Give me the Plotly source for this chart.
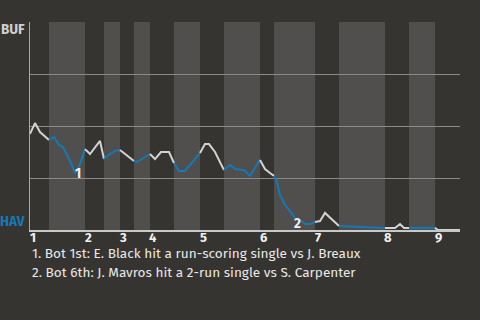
import plotly.graph_objects as go

# Game progress (plays) and BUF win probability (1 = BUF, 0 = HAV)
play_pos = [0, 5, 10, 14, 19, 24, 29, 33, 37, 41, 45, 49, 55, 60, 70, 74, 80, 85, 90, 96,
            104, 107, 115, 120, 125, 131, 139, 144, 149, 155, 165, 170, 175, 179, 185, 194,
            200, 205, 214, 220, 230, 235, 240, 244, 247, 250, 255, 260, 265, 270, 275, 280,
            285, 290, 295, 300, 309, 330, 345, 355, 365, 370, 374, 379, 405, 408, 430]
buf_prob = [0.462, 0.514, 0.471, 0.452, 0.433, 0.447, 0.409, 0.399, 0.361, 0.322, 0.274, 0.303,
            0.389, 0.365, 0.428, 0.341, 0.365, 0.380, 0.385, 0.361,
            0.332, 0.327, 0.351, 0.365, 0.341, 0.375, 0.375, 0.322, 0.284, 0.284, 0.341, 0.370,
            0.413, 0.413, 0.375, 0.288,
            0.313, 0.293, 0.288, 0.260, 0.337, 0.293, 0.274, 0.260, 0.231, 0.168, 0.120, 0.091,
            0.058, 0.048, 0.029, 0.029,
            0.038, 0.043, 0.082, 0.058, 0.019, 0.014, 0.010, 0.010, 0.010, 0.029, 0.010, 0.010,
            0.010, 0.0, 0.0]

# Half-inning boundaries (top 1st, bot 1st, top 2nd, ...)
half_bounds = [0, 19, 55, 74, 90, 104, 120, 144, 170, 194, 230, 244, 285, 309, 355, 379, 405, 430]
inning_labels = ["1", "2", "3", "4", "5", "6", "7", "8", "9"]

notes = ["1. Bot 1st: E. Black hit a run-scoring single vs J. Breaux",
         "2. Bot 6th: J. Mavros hit a 2-run single vs S. Carpenter"]
note_marks = ["1", "2"]
note_x = [48, 267]
note_y = [0.274, 0.029]

BG = "#363431"
BAND = "#504f4d"
BLUE = "#1479b4"
WHITE = "#d2d2d2"
FONT = "Fira Sans, Open Sans, sans-serif"

fig = go.Figure()

shapes = []
for i in range(len(half_bounds) - 1):
    if i % 2 == 1:
        shapes.append(dict(type="rect", xref="x", yref="paper",
                           x0=half_bounds[i], x1=half_bounds[i + 1], y0=0, y1=1,
                           fillcolor=BAND, line=dict(width=0), layer="below"))

for i in range(len(half_bounds) - 1):
    a, b = half_bounds[i], half_bounds[i + 1]
    xs = [x for x in play_pos if a <= x <= b]
    ys = [p for x, p in zip(play_pos, buf_prob) if a <= x <= b]
    fig.add_trace(go.Scatter(x=xs, y=ys, mode="lines",
                             line=dict(color=BLUE if i % 2 == 1 else WHITE, width=2),
                             hoverinfo="skip", showlegend=False))

annotations = []
for m, x, y in zip(note_marks, note_x, note_y):
    annotations.append(dict(x=x, y=y, xref="x", yref="y", text="<b>%s</b>" % m,
                            showarrow=False, font=dict(family=FONT, size=13.5, color="#f0f0f0")))

annotations.append(dict(x=0, y=1, xref="paper", yref="paper", text="<b>BUF</b>",
                        xanchor="right", yanchor="middle", xshift=-3, yshift=-7,
                        showarrow=False, font=dict(family=FONT, size=13.5, color="#cfcfcf")))
annotations.append(dict(x=0, y=0, xref="paper", yref="paper", text="<b>HAV</b>",
                        xanchor="right", yanchor="middle", xshift=-3, yshift=9,
                        showarrow=False, font=dict(family=FONT, size=13.5, color=BLUE)))

for k, lab in enumerate(inning_labels):
    annotations.append(dict(x=half_bounds[2 * k], y=0, xref="x", yref="paper",
                            text="<b>%s</b>" % lab, xanchor="center", yanchor="middle",
                            xshift=3, yshift=-7, showarrow=False,
                            font=dict(family=FONT, size=13, color="#f0f0f0")))

for k, t in enumerate(notes):
    annotations.append(dict(x=0, y=0, xref="paper", yref="paper", text=t,
                            xanchor="left", yanchor="middle", xshift=0, yshift=-23 - 19 * k,
                            showarrow=False, font=dict(family=FONT, size=13.6, color="#e8e8e8")))

fig.update_layout(
    width=480, height=320,
    margin=dict(l=30, r=20, t=22, b=90),
    paper_bgcolor=BG, plot_bgcolor=BG,
    shapes=shapes, annotations=annotations,
    xaxis=dict(range=[half_bounds[0], half_bounds[-1]],
               showticklabels=False, ticks="", showgrid=False, zeroline=False,
               showline=True, linecolor="#c8c8c8", linewidth=2),
    yaxis=dict(range=[0, 1], tickvals=[0, 0.25, 0.5, 0.75, 1], showticklabels=False,
               showgrid=True, gridcolor="#8a8a88", gridwidth=1, zeroline=False,
               showline=True, linecolor="#a8a8a6", linewidth=1, ticks=""),
)

fig.write_html("out.html")
